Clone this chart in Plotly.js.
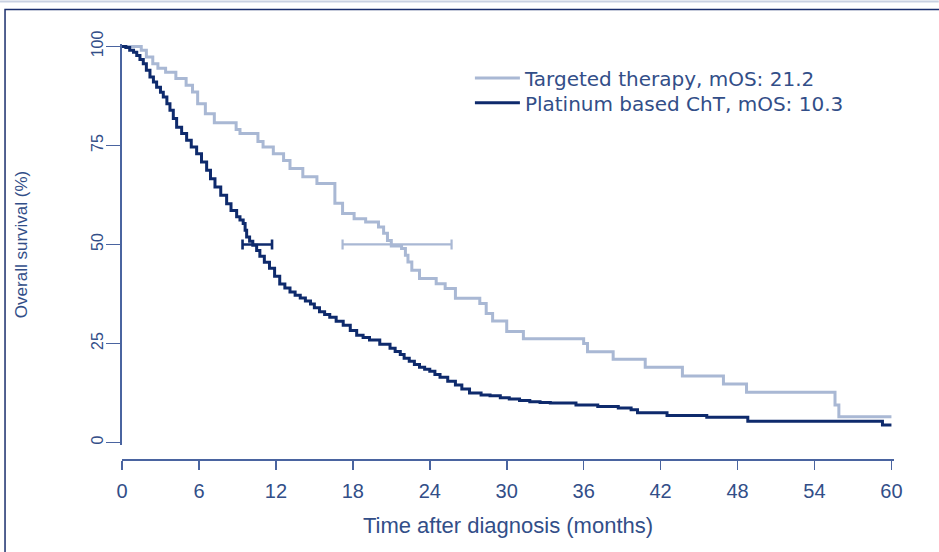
<!DOCTYPE html>
<html>
<head>
<meta charset="utf-8">
<script src="https://cdn.plot.ly/plotly-3.0.1.min.js"></script>
<style>html,body{margin:0;padding:0;background:#fff;}#chart{width:939px;height:552px;}</style>
</head>
<body>
<div id="chart"></div>
<script>
// ---- data ----
const seriesNames = ["Targeted therapy", "Platinum based ChT"];
const medianOS = [21.2, 10.3];
const ciLow = [17.2, 9.4];
const ciHigh = [25.7, 11.7];

const targetedTime = [0, 1.5, 1.9, 2.4, 2.8, 3.4, 4.2, 5.0, 5.5, 5.9, 6.5, 7.2, 8.9, 9.2, 10.6, 11.0, 11.8, 12.6, 13.1, 14.1, 15.2, 16.6, 17.2, 18.1, 19.0, 20.0, 20.4, 20.7, 21.0, 21.8, 22.1, 22.3, 22.6, 23.2, 24.5, 25.2, 26.0, 27.9, 28.4, 28.9, 30.0, 31.3, 36.0, 36.3, 38.3, 40.8, 43.7, 46.9, 48.7, 55.6, 55.9, 60];
const targetedSurv = [100, 99, 97.3, 95.6, 94.5, 93.5, 91.9, 90.2, 88.5, 85.5, 83, 80.7, 79, 78, 76, 74.6, 72.9, 71.2, 69.2, 67.1, 65.4, 60.4, 57.8, 56.5, 55.7, 54.4, 52.8, 51, 49.6, 49, 47.3, 45.6, 43.5, 41.4, 40.1, 38.9, 36.4, 35.1, 32.6, 30.7, 28, 26.2, 25, 22.9, 21, 19, 16.8, 14.8, 12.7, 9.5, 6.5, 6.5];

const platinumTime = [0, 0.3, 0.6, 0.9, 1.15, 1.4, 1.66, 1.9, 2.18, 2.45, 2.7, 3.0, 3.22, 3.5, 3.74, 4.0, 4.26, 4.65, 5.04, 5.4, 5.82, 6.2, 6.6, 6.9, 7.25, 7.7, 8.16, 8.5, 8.94, 9.2, 9.45, 9.6, 9.72, 9.95, 10.2, 10.5, 10.75, 11.1, 11.5, 11.9, 12.3, 12.7, 13.1, 13.5, 13.9, 14.3, 14.7, 15.0, 15.4, 15.8, 16.2, 16.7, 17.25, 17.8, 18.3, 18.8, 19.3, 20.1, 20.9, 21.3, 21.7, 22.0, 22.4, 22.8, 23.2, 23.6, 24.0, 24.4, 24.8, 25.4, 26.0, 26.5, 27.1, 28.0, 28.7, 29.5, 30.2, 31.0, 31.8, 32.6, 33.4, 35.4, 37.1, 38.7, 39.7, 40.2, 42.5, 45.6, 48.8, 59.3, 60];
const platinumSurv = [100, 99.7, 99, 98.5, 97.7, 96.7, 95.6, 94, 92.3, 91, 89.7, 88.4, 87.2, 85.5, 83.9, 81.8, 79.6, 78, 76.3, 74.6, 72.9, 70.8, 68.7, 66.6, 64.5, 62.4, 60.3, 58.6, 57, 56.2, 55.3, 53.6, 51.9, 50.8, 49.8, 48.5, 47, 45.5, 44, 42, 40, 39, 38, 37.2, 36.5, 35.7, 35, 34, 33, 32.3, 31.6, 30.6, 29.6, 28.3, 27.1, 26.5, 25.9, 24.8, 23.8, 23, 22.2, 21.3, 20.5, 19.7, 19, 18.5, 18, 17.2, 16.5, 15.5, 14.5, 13.5, 12.5, 12, 11.8, 11.3, 11, 10.6, 10.3, 10.1, 10, 9.5, 9.1, 8.7, 8.3, 7.5, 6.8, 6.4, 5.4, 4.4, 4.4];

const xTickVals = [0, 6, 12, 18, 24, 30, 36, 42, 48, 54, 60];
const yTickVals = [0, 25, 50, 75, 100];
const xTitle = "Time after diagnosis (months)";
const yTitle = "Overall survival (%)";

// ---- styling ----
const lightCol = "#a9b8d4";
const darkCol = "#0e2a6c";
const axisCol = "#4a64a0";
const textCol = "#324e88";
const W = 939, H = 552;
const M = {l: 122, r: 44.8, t: 43.6, b: 93};
const plotW = W - M.l - M.r, plotH = H - M.t - M.b;
const px2x = p => (p - M.l) / plotW;
const py2y = p => (H - M.b - p) / plotH;

const traces = [
  {x: targetedTime, y: targetedSurv, type: "scatter", mode: "lines",
   line: {shape: "hv", color: lightCol, width: 3},
   name: seriesNames[0] + ", mOS: " + medianOS[0], legend: "legend"},
  {x: platinumTime, y: platinumSurv, type: "scatter", mode: "lines",
   line: {shape: "hv", color: darkCol, width: 3},
   name: seriesNames[1] + ", mOS: " + medianOS[1], legend: "legend2"},
  {x: [medianOS[0]], y: [50], type: "scatter", mode: "markers",
   marker: {size: 1, opacity: 0}, showlegend: false, hoverinfo: "skip",
   error_x: {type: "data", symmetric: false, array: [ciHigh[0] - medianOS[0]],
             arrayminus: [medianOS[0] - ciLow[0]], color: lightCol, thickness: 2.2, width: 5}},
  {x: [medianOS[1]], y: [50], type: "scatter", mode: "markers",
   marker: {size: 1, opacity: 0}, showlegend: false, hoverinfo: "skip",
   error_x: {type: "data", symmetric: false, array: [ciHigh[1] - medianOS[1]],
             arrayminus: [medianOS[1] - ciLow[1]], color: darkCol, thickness: 2.6, width: 5}}
];

const tickFont = {family: "Liberation Sans Narrow, Liberation Sans, Arial, sans-serif", size: 20, color: textCol};
const legendBase = {xanchor: "left", yanchor: "top", bgcolor: "rgba(0,0,0,0)", borderwidth: 0, itemwidth: 45,
                    font: {family: "DejaVu Sans, sans-serif", size: 20, color: textCol}, tracegroupgap: 0};

const layout = {
  width: W, height: H,
  margin: M,
  paper_bgcolor: "#ffffff", plot_bgcolor: "#ffffff",
  showlegend: true,
  legend: Object.assign({}, legendBase, {x: px2x(470), y: py2y(58)}),
  legend2: Object.assign({}, legendBase, {x: px2x(470), y: py2y(83)}),
  xaxis: {range: [0, 60.2], anchor: "free", position: 0,
          showline: true, linecolor: axisCol, linewidth: 1.6,
          ticks: "outside", ticklen: 9, tickwidth: 1.6, tickcolor: axisCol,
          tickvals: xTickVals, ticktext: xTickVals.map(String),
          showgrid: false, zeroline: false, tickfont: tickFont,
          ticklabelstandoff: 4,
          title: {text: xTitle, font: {family: "Liberation Sans, Arial, sans-serif", size: 22, color: textCol}, standoff: 17}},
  yaxis: {range: [-0.6, 100.6], domain: [py2y(444.9), 1],
          showline: true, linecolor: axisCol, linewidth: 1.6,
          ticks: "outside", ticklen: 14, tickwidth: 1.6, tickcolor: axisCol,
          tickvals: yTickVals, ticktext: yTickVals.map(String), tickangle: -90,
          showgrid: false, zeroline: false,
          tickfont: {family: "Liberation Sans Narrow, Liberation Sans, Arial, sans-serif", size: 16, color: textCol},
          ticklabelstandoff: -3,
          title: {text: yTitle, font: {family: "Liberation Sans Narrow, Liberation Sans, Arial, sans-serif", size: 17, color: textCol}, standoff: 57}},
  shapes: [
    {type: "rect", xref: "paper", yref: "paper",
     x0: px2x(5), x1: px2x(W + 10), y0: py2y(H + 10), y1: py2y(9),
     line: {color: "#1b2f6e", width: 1.5}, fillcolor: "rgba(0,0,0,0)", layer: "below"},
    {type: "line", xref: "paper", yref: "paper",
     x0: px2x(0), x1: px2x(W), y0: py2y(1), y1: py2y(1),
     line: {color: "#c9d1e2", width: 2}, layer: "below"}
  ]
};

Plotly.newPlot("chart", traces, layout, {displayModeBar: false, staticPlot: true});
</script>
</body>
</html>
